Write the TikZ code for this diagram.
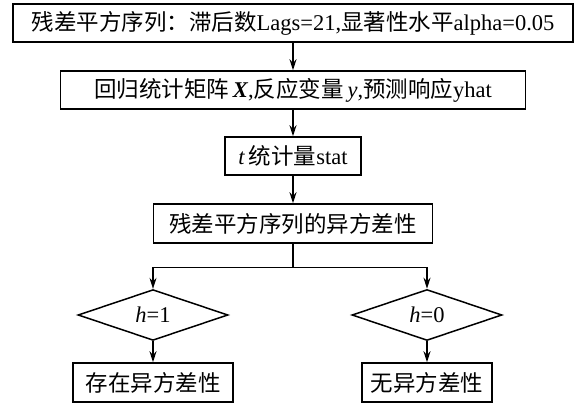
\documentclass[tikz,border=0pt]{standalone}
\usepackage{fontspec}
\setmainfont{Liberation Serif}
\newfontfamily\cjk{Noto Sans CJK SC}
\usetikzlibrary{arrows.meta,shapes.geometric,calc}
\newcommand\zh[1]{{\cjk #1}}

\tikzset{
  box/.style={draw, line width=1.5pt, inner sep=0pt, minimum height=38pt,
    font=\fontsize{22.5pt}{25pt}\selectfont},
  decision/.style={draw, diamond, line width=1.5pt, inner sep=0pt,
    minimum width=150pt, minimum height=40pt,
    font=\fontsize{22.5pt}{25pt}\selectfont},
  flow/.style={line width=1.5pt, -{Stealth[length=11pt,width=7pt]}},
  link/.style={line width=1.5pt}
}

\begin{document}
\begin{tikzpicture}[x=1pt,y=1pt]
  \useasboundingbox (0,0) rectangle (584,-403);

  % main chain
  \node[box, minimum width=560pt] (b1) at (293,-23)
    {\zh{残差平方序列：滞后数}Lags=21,\zh{显著性水平}alpha=0.05};
  \node[box, minimum width=465pt] (b2) at (293,-90)
    {\zh{回归统计矩阵}\,\textbf{\textit{X}},\zh{反应变量}\,\textit{y},\zh{预测响应}yhat};
  \node[box, minimum width=136pt] (b3) at (293,-156)
    {\textit{t}\,\zh{统计量}stat};
  \node[box, minimum width=279pt, minimum height=39pt] (b4) at (293,-223.5)
    {\zh{残差平方序列的异方差性}};

  % decisions
  \node[decision] (d1) at (153,-315) {\textit{h}=1};
  \node[decision] (d2) at (427,-315) {\textit{h}=0};

  % outcomes
  \node[box, minimum width=160pt, minimum height=39pt] (b5) at (153,-382.5)
    {\zh{存在异方差性}};
  \node[box, minimum width=130pt, minimum height=39pt] (b6) at (427,-382.5)
    {\zh{无异方差性}};

  % connectors
  \draw[flow] (b1) -- (b2);
  \draw[flow] (b2) -- (b3);
  \draw[flow] (b3) -- (b4);
  \coordinate (split) at ($(b4.south)+(0,-24)$);
  \draw[link] (b4.south) -- (split);
  \draw[flow] (split) -| (d1.north);
  \draw[flow] (split) -| (d2.north);
  \draw[flow] (d1) -- (b5);
  \draw[flow] (d2) -- (b6);
\end{tikzpicture}
\end{document}
